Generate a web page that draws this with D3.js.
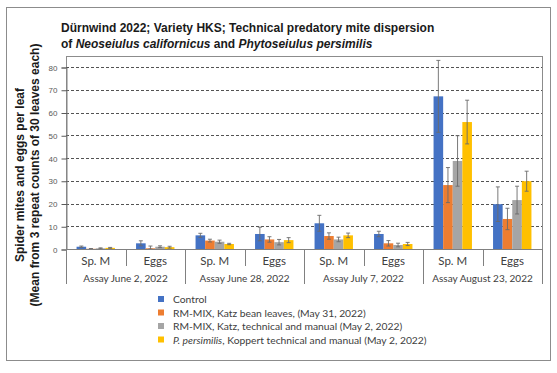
<!DOCTYPE html>
<html>
<head>
<meta charset="utf-8">
<script src="https://cdn.jsdelivr.net/npm/d3@7"></script>
<style>
  body { margin: 0; background: #fff; }
  svg { display: block; }
</style>
</head>
<body>
<svg id="canvas"></svg>
<script>
// data
const assays = ['Assay June 2, 2022', 'Assay June 28, 2022', 'Assay July 7, 2022', 'Assay August 23, 2022'];
const stages = ['Sp. M', 'Eggs'];
const yTicks = [0, 10, 20, 30, 40, 50, 60, 70, 80];

const seriesNames = ['Control', 'RM-MIX, Katz bean leaves, (May 31, 2022)', 'RM-MIX, Katz, technical and manual (May 2, 2022)', 'persimilis'];
const seriesColors = ['#4472c4', '#ed7d31', '#a5a5a5', '#ffc000'];

// order: June2 SpM, June2 Eggs, June28 SpM, June28 Eggs, July7 SpM, July7 Eggs, Aug23 SpM, Aug23 Eggs
const control = [1.0, 2.5, 6.0, 6.6, 11.3, 6.6, 67.1, 19.7];
const controlErr = [0.3, 1.1, 0.9, 3.0, 3.5, 1.2, 15.8, 7.6];
const katzBean = [0.1, 0.3, 3.7, 4.2, 5.7, 2.5, 28.1, 13.2];
const katzBeanErr = [0.1, 1.0, 0.6, 1.2, 1.4, 1.2, 7.7, 4.7];
const katzTech = [0.3, 1.0, 3.2, 3.0, 4.2, 1.75, 38.7, 21.5];
const katzTechErr = [0.2, 0.4, 0.7, 1.2, 1.0, 0.8, 11.1, 6.1];
const persimilis = [0.5, 0.8, 2.2, 3.9, 6.0, 2.2, 55.8, 29.8];
const persimilisErr = [0.2, 0.4, 0.3, 1.1, 1.0, 0.7, 9.6, 4.4];

const seriesValues = [control, katzBean, katzTech, persimilis];
const seriesErrors = [controlErr, katzBeanErr, katzTechErr, persimilisErr];

let width = 557;
let height = 373;

let plotLeft = 66;
let plotRight = 542;
let plotTop = 56;
let plotBottom = 249;

let canvas = d3.select('#canvas')
    .attr('width', width)
    .attr('height', height);

// outer chart border
canvas.append('rect')
    .attr('x', 6.5).attr('y', 7.5)
    .attr('width', 544).attr('height', 353)
    .attr('fill', 'white')
    .attr('stroke', '#8c8c8c')
    .attr('stroke-width', 1);

const categories = [];
assays.forEach(a => stages.forEach(s => categories.push(a + '|' + s)));

let xScale = d3.scaleBand()
    .domain(categories)
    .range([plotLeft, plotRight]);

let xInner = d3.scaleBand()
    .domain(d3.range(seriesValues.length))
    .range([0, xScale.bandwidth()])
    .paddingOuter(1.1);

let yScale = d3.scaleLinear()
    .domain([0, 80])
    .range([plotBottom, 67]);

let groupScale = d3.scaleBand()
    .domain(assays)
    .range([plotLeft, plotRight]);

// plot area border
canvas.append('rect')
    .attr('x', plotLeft + 0.5).attr('y', plotTop + 0.5)
    .attr('width', plotRight - plotLeft).attr('height', plotBottom - plotTop)
    .attr('fill', 'none')
    .attr('stroke', '#8c8c8c');

// gridlines
canvas.append('g')
    .selectAll('line')
    .data(yTicks.filter(t => t > 0))
    .enter()
    .append('line')
    .attr('x1', plotLeft).attr('x2', plotRight)
    .attr('y1', t => Math.round(yScale(t)) + 0.5)
    .attr('y2', t => Math.round(yScale(t)) + 0.5)
    .attr('stroke', '#404040')
    .attr('stroke-dasharray', '3,2')
    .attr('stroke-width', 0.9);

// y axis
let yAxis = d3.axisLeft(yScale)
    .tickValues(yTicks)
    .tickSize(5)
    .tickPadding(4);

let yAxisG = canvas.append('g')
    .attr('transform', 'translate(' + (plotLeft + 0.5) + ',0.5)')
    .call(yAxis);
yAxisG.select('.domain').attr('stroke', '#808080');
yAxisG.selectAll('.tick line').attr('stroke', '#595959');
yAxisG.selectAll('.tick text')
    .attr('fill', '#595959')
    .style('font-family', 'Liberation Sans, Arial, sans-serif')
    .style('font-size', '8px');

// bars
const barData = [];
seriesValues.forEach((vals, s) => {
    vals.forEach((v, i) => {
        barData.push({ s: s, cat: categories[i], v: v, e: seriesErrors[s][i] });
    });
});

canvas.append('g')
    .selectAll('rect')
    .data(barData)
    .enter()
    .append('rect')
    .attr('x', d => xScale(d.cat) + xInner(d.s))
    .attr('width', xInner.bandwidth())
    .attr('y', d => yScale(d.v))
    .attr('height', d => yScale(0) - yScale(d.v))
    .attr('fill', d => seriesColors[d.s]);

// error bars
let errG = canvas.append('g')
    .attr('stroke', '#6b6b6b')
    .attr('stroke-width', 0.9);

barData.forEach(d => {
    let cx = xScale(d.cat) + xInner(d.s) + xInner.bandwidth() / 2;
    let lo = Math.max(0, d.v - d.e);
    let hi = d.v + d.e;
    errG.append('line')
        .attr('x1', cx).attr('x2', cx)
        .attr('y1', yScale(lo)).attr('y2', yScale(hi));
    [lo, hi].forEach(val => {
        errG.append('line')
            .attr('x1', cx - 2).attr('x2', cx + 2)
            .attr('y1', yScale(val)).attr('y2', yScale(val));
    });
});

// category axis line
canvas.append('line')
    .attr('x1', plotLeft).attr('x2', plotRight)
    .attr('y1', plotBottom + 0.5).attr('y2', plotBottom + 0.5)
    .attr('stroke', '#808080');

// separators: group boundaries long, inner short
const groupEdges = assays.map(a => groupScale(a)).concat([plotRight]);
canvas.append('g')
    .selectAll('line')
    .data(groupEdges)
    .enter()
    .append('line')
    .attr('x1', d => Math.round(d) + 0.5).attr('x2', d => Math.round(d) + 0.5)
    .attr('y1', plotBottom).attr('y2', 284)
    .attr('stroke', '#808080');

canvas.append('g')
    .selectAll('line')
    .data(assays)
    .enter()
    .append('line')
    .attr('x1', a => Math.round(groupScale(a) + groupScale.bandwidth() / 2) + 0.5)
    .attr('x2', a => Math.round(groupScale(a) + groupScale.bandwidth() / 2) + 0.5)
    .attr('y1', plotBottom).attr('y2', 266)
    .attr('stroke', '#808080');

// category labels
canvas.append('g')
    .selectAll('text')
    .data(categories)
    .enter()
    .append('text')
    .attr('x', c => xScale(c) + xScale.bandwidth() / 2)
    .attr('y', 265)
    .attr('text-anchor', 'middle')
    .attr('fill', '#404040')
    .style('font-family', 'Lato, Carlito, Calibri, sans-serif')
    .style('font-size', '11.5px')
    .text(c => c.split('|')[1]);

canvas.append('g')
    .selectAll('text')
    .data(assays)
    .enter()
    .append('text')
    .attr('x', a => groupScale(a) + groupScale.bandwidth() / 2)
    .attr('y', 282)
    .attr('text-anchor', 'middle')
    .attr('fill', '#404040')
    .style('font-family', 'Lato, Carlito, Calibri, sans-serif')
    .style('font-size', '10px')
    .text(a => a);

// title
let title = canvas.append('text')
    .attr('x', 61)
    .style('font-family', 'Liberation Sans, Arial, sans-serif')
    .style('font-size', '12px')
    .style('font-weight', 'bold')
    .attr('fill', '#1a1a1a');
title.append('tspan').attr('x', 61).attr('y', 32)
    .text('Dürnwind 2022; Variety HKS; Technical predatory mite dispersion');
let t2 = title.append('tspan').attr('x', 61).attr('y', 48);
t2.append('tspan').text('of ');
t2.append('tspan').style('font-style', 'italic').text('Neoseiulus californicus');
t2.append('tspan').text(' and ');
t2.append('tspan').style('font-style', 'italic').text('Phytoseiulus persimilis');

// y axis title
let yTitle = canvas.append('text')
    .attr('transform', 'translate(0,175) rotate(-90)')
    .attr('text-anchor', 'middle')
    .style('font-family', 'Liberation Sans, Arial, sans-serif')
    .style('font-size', '12px')
    .style('font-weight', 'bold')
    .attr('fill', '#1a1a1a');
yTitle.append('tspan').attr('x', 0).attr('y', 24).text('Spider mites and eggs per leaf');
yTitle.append('tspan').attr('x', 0).attr('y', 39).text('(Mean from 3 repeat counts of 30 leaves each)');

// legend
let legend = canvas.append('g')
    .attr('transform', 'translate(158,300)');

let rows = legend.selectAll('g')
    .data(seriesNames)
    .enter()
    .append('g')
    .attr('transform', (_, i) => 'translate(0,' + (i * 13.5) + ')');

rows.append('rect')
    .attr('x', 0).attr('y', -4)
    .attr('width', 6).attr('height', 6)
    .attr('fill', (_, i) => seriesColors[i]);

rows.append('text')
    .attr('x', 15)
    .attr('y', 3)
    .attr('fill', '#404040')
    .style('font-family', 'Lato, Carlito, Calibri, sans-serif')
    .style('font-size', '10.3px')
    .each(function (name, i) {
        let t = d3.select(this);
        if (name === 'persimilis') {
            t.append('tspan').style('font-style', 'italic').text('P. persimilis');
            t.append('tspan').text(', Koppert technical and manual (May 2, 2022)');
        } else {
            t.text(name);
        }
    });
</script>
</body>
</html>
